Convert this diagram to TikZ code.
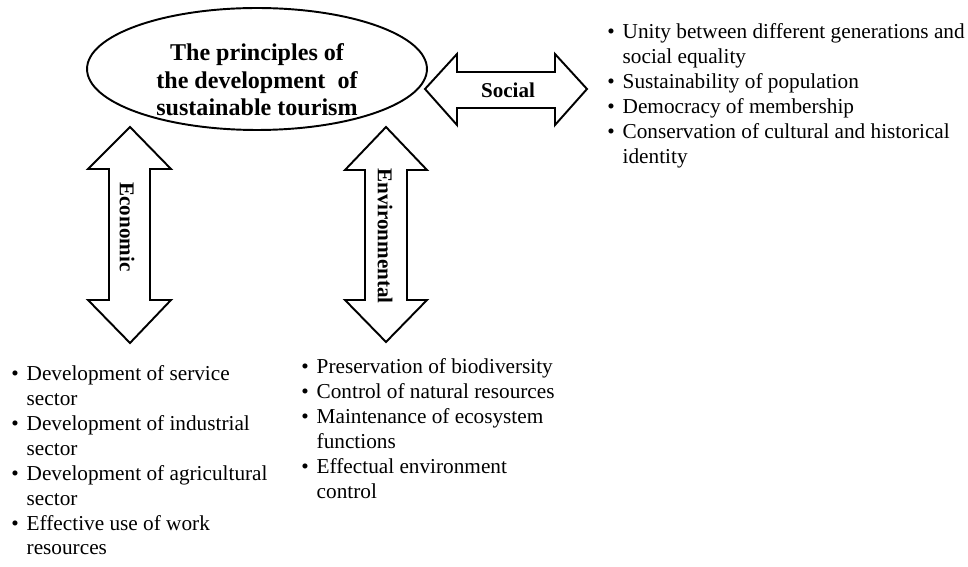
\documentclass[tikz,border=0pt]{standalone}
\usepackage{fontspec}
\setmainfont{Liberation Serif}
\usetikzlibrary{positioning, shapes.geometric}
\tikzset{
  hub/.style={ellipse, draw, line width=1.1pt, minimum width=6.8cm,
              minimum height=2.44cm, inner sep=0pt},
  ttl/.style={align=center, font=\fontsize{13.7}{15.6}\selectfont\bfseries},
  fat/.style={draw, line width=1.1pt, fill=white, line join=miter},
  lbl/.style={font=\fontsize{12}{14}\selectfont\bfseries, inner sep=0pt},
  lst/.style={anchor=north west, inner sep=0pt,
              font=\fontsize{12.1}{14.2}\selectfont},
}

\begin{document}
\begin{tikzpicture}[x=0.02cm, y=-0.02cm]
  \useasboundingbox (0,0) rectangle (968,567);
  % the core ellipse
  \node[hub] (hub) at (257,69) {};
  \node[ttl] (title) at (257,80) {The principles of\\the development \ of\\sustainable tourism};
  % fat double arrows
  \draw[fat] (425,89) -- (457,54) -- (457,72) -- (555,72) -- (555,54) -- (587,89)
        -- (555,125) -- (555,108) -- (457,108) -- (457,125) -- cycle;
  \draw[fat] (130,127) -- (171,169) -- (150,169) -- (150,300) -- (171,300) -- (130,343)
        -- (88,300) -- (109,300) -- (109,169) -- (88,169) -- cycle;
  \draw[fat] (386,127) -- (427,170) -- (407,170) -- (407,300) -- (427,300) -- (386,342)
        -- (345,300) -- (365,300) -- (365,170) -- (345,170) -- cycle;
  \node[lbl] (soc) at (508,90) {Social};
  \node[lbl, rotate=-90] (eco) at (127,227) {Economic};
  \node[lbl, rotate=-90] (env) at (385,236) {Environmental};
  % the three lists
  \node[lst] (socL) at (607,20.5) {\begin{tabular}{@{}l@{\hspace{4.5pt}}l@{}}
    \textbullet & Unity between different generations and\\
                & social equality\\
    \textbullet & Sustainability of population\\
    \textbullet & Democracy of membership\\
    \textbullet & Conservation of cultural and historical\\
                & identity
  \end{tabular}};
  \node[lst] (ecoL) at (11,362.5) {\begin{tabular}{@{}l@{\hspace{4.5pt}}l@{}}
    \textbullet & Development of service\\
                & sector\\
    \textbullet & Development of industrial\\
                & sector\\
    \textbullet & Development of agricultural\\
                & sector\\
    \textbullet & Effective use of work\\
                & resources
  \end{tabular}};
  \node[lst] (envL) at (301,355.5) {\begin{tabular}{@{}l@{\hspace{4.5pt}}l@{}}
    \textbullet & Preservation of biodiversity\\
    \textbullet & Control of natural resources\\
    \textbullet & Maintenance of ecosystem\\
                & functions\\
    \textbullet & Effectual environment\\
                & control
  \end{tabular}};
\end{tikzpicture}
\end{document}
